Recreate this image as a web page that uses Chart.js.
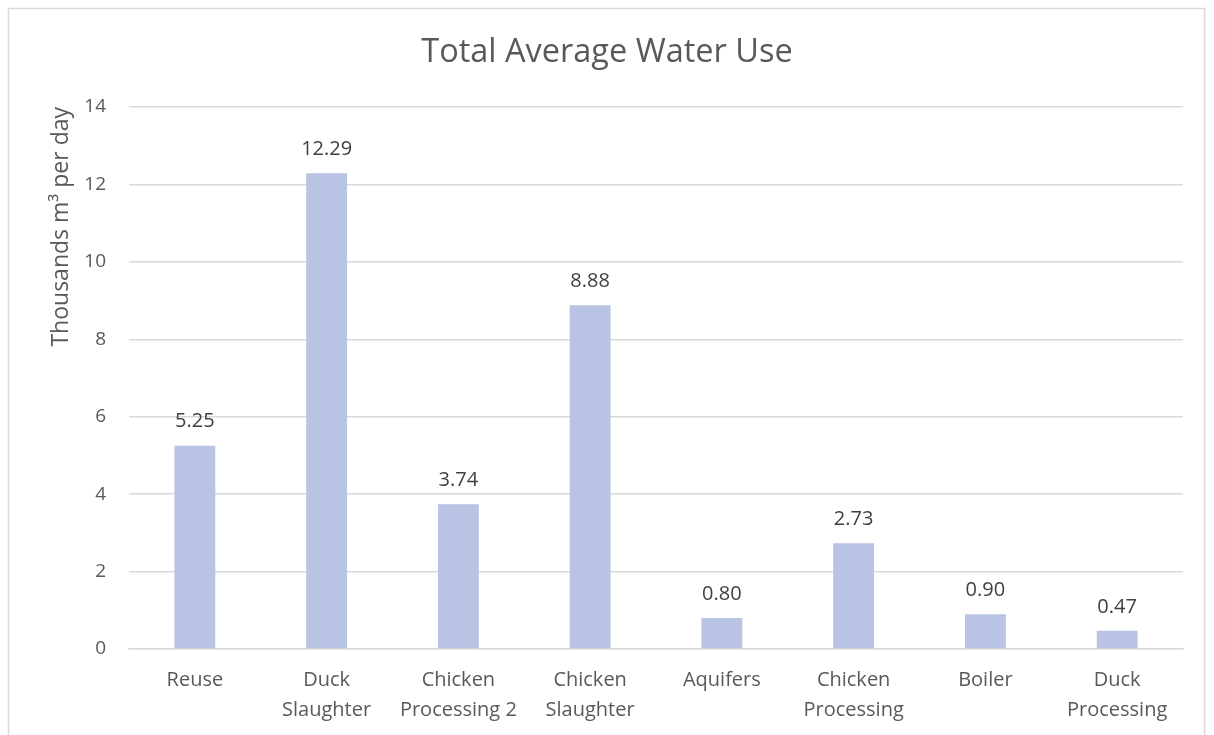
<!DOCTYPE html>
<html>
<head>
<meta charset="utf-8">
<title>Total Average Water Use</title>
<script src="https://cdn.jsdelivr.net/npm/chart.js@4.4.1/dist/chart.umd.min.js"></script>
<style>
  html, body { margin: 0; padding: 0; background: #ffffff; }
  #wrap { position: relative; width: 1214px; height: 735px; }
</style>
</head>
<body>
<div id="wrap"><canvas id="chart" width="1214" height="735"></canvas></div>
<script>
// Water use by source / process, thousands of m³ per day
const categories = [
  ['Reuse'],
  ['Duck', 'Slaughter'],
  ['Chicken', 'Processing 2'],
  ['Chicken', 'Slaughter'],
  ['Aquifers'],
  ['Chicken', 'Processing'],
  ['Boiler'],
  ['Duck', 'Processing']
];
const waterUse = [5.25, 12.29, 3.74, 8.88, 0.80, 2.73, 0.90, 0.47];
const yTicks = [0, 2, 4, 6, 8, 10, 12, 14];

const FONT = '"Open Sans", Lato, "DejaVu Sans", sans-serif';
const TEXT = '#595959';
const GRID = '#d9d9d9';

// Light frame around the whole chart
const framePlugin = {
  id: 'frame',
  beforeDraw(chart) {
    const ctx = chart.ctx;
    ctx.save();
    ctx.fillStyle = '#ffffff';
    ctx.fillRect(0, 0, chart.width, chart.height);
    ctx.strokeStyle = '#d9d9d9';
    ctx.lineWidth = 1.5;
    ctx.strokeRect(8.5, 8.5, chart.width - 18, chart.height + 20);
    ctx.restore();
  }
};

// Value labels above each bar, taken from the bar elements
const valueLabels = {
  id: 'valueLabels',
  afterDatasetsDraw(chart) {
    const ctx = chart.ctx;
    const meta = chart.getDatasetMeta(0);
    ctx.save();
    ctx.font = '20px ' + FONT;
    ctx.fillStyle = '#404040';
    ctx.textAlign = 'center';
    ctx.textBaseline = 'middle';
    meta.data.forEach((bar, i) => {
      const v = chart.data.datasets[0].data[i];
      ctx.fillText(v.toFixed(2), bar.x, bar.y - 24);
    });
    ctx.restore();
  }
};

new Chart(document.getElementById('chart'), {
  type: 'bar',
  data: {
    labels: categories,
    datasets: [{
      data: waterUse,
      backgroundColor: '#b9c3e3',
      borderWidth: 0,
      categoryPercentage: 1,
      barPercentage: 0.31
    }]
  },
  options: {
    responsive: false,
    animation: false,
    devicePixelRatio: 1,
    layout: { padding: { left: 31, right: 31, top: 0, bottom: 0 } },
    plugins: {
      legend: { display: false },
      tooltip: { enabled: false },
      title: {
        display: true,
        text: 'Total Average Water Use',
        color: TEXT,
        font: { family: FONT, size: 32.5, weight: 'normal', lineHeight: 1.2 },
        padding: { top: 33, bottom: 35 }
      }
    },
    scales: {
      x: {
        grid: { display: false, drawTicks: false },
        border: { display: true, color: GRID, width: 1.5 },
        ticks: {
          color: TEXT,
          font: { family: FONT, size: 20, lineHeight: 1.5 },
          padding: 16,
          maxRotation: 0,
          autoSkip: false
        },
        afterFit(scale) { scale.height = 86; }
      },
      y: {
        min: 0,
        max: 14,
        afterBuildTicks(scale) { scale.ticks = yTicks.map(v => ({ value: v })); },
        grid: { color: GRID, lineWidth: 1.5, drawTicks: false },
        border: { display: false },
        ticks: {
          color: TEXT,
          font: { family: FONT, size: 19 },
          padding: 23
        },
        title: {
          display: true,
          text: 'Thousands m³ per day',
          align: 'end',
          color: TEXT,
          font: { family: FONT, size: 23, lineHeight: 1.2 },
          padding: { top: 17, bottom: 0 }
        },
        afterFit(scale) { scale.width = 98; }
      }
    }
  },
  plugins: [framePlugin, valueLabels]
});
</script>
</body>
</html>
